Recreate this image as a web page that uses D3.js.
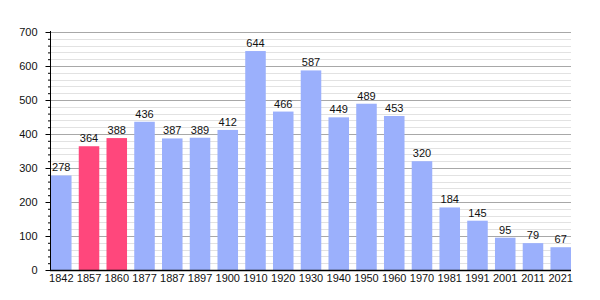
<!DOCTYPE html>
<html>
<head>
<meta charset="utf-8">
<script src="https://cdn.jsdelivr.net/npm/d3@7"></script>
<style>
body { margin: 0; background: #fff; }
svg text { font-family: "Liberation Sans", Arial, sans-serif; }
</style>
</head>
<body>
<svg width="600" height="300"></svg>
<script>
var years = ["1842","1857","1860","1877","1887","1897","1900","1910","1920","1930","1940","1950","1960","1970","1981","1991","2001","2011","2021"];
var population = [278,364,388,436,387,389,412,644,466,587,449,489,453,320,184,145,95,79,67];
var highlighted = ["1857","1860"];
var yTicks = [0,100,200,300,400,500,600,700];

var svg = d3.select("svg");
var plotLeft = 51, plotRight = 571, plotTop = 32, plotBottom = 270;

var x = d3.scaleBand().domain(years).range([plotLeft, plotRight]).paddingInner(0.26).paddingOuter(0);
var y = d3.scaleLinear().domain([0, 700]).range([plotBottom, plotTop]);

// grid: minor every 20, major every 100
var minor = d3.range(0, 701, 20).filter(function(d) { return d % 100 != 0; });
svg.append("g").selectAll("line").data(minor).enter().append("line")
	.attr("x1", plotLeft).attr("x2", plotRight)
	.attr("y1", function(d) { return Math.round(y(d)) + 0.5; }).attr("y2", function(d) { return Math.round(y(d)) + 0.5; })
	.attr("stroke", "#e2e2e2").attr("stroke-width", 1);
svg.append("g").selectAll("line").data(yTicks.slice(1)).enter().append("line")
	.attr("x1", plotLeft).attr("x2", plotRight)
	.attr("y1", function(d) { return Math.round(y(d)) + 0.5; }).attr("y2", function(d) { return Math.round(y(d)) + 0.5; })
	.attr("stroke", "#a8a8a8").attr("stroke-width", 1);

// bars
svg.append("g").selectAll("rect").data(population).enter().append("rect")
	.attr("x", function(d, i) { return x(years[i]); })
	.attr("width", x.bandwidth())
	.attr("y", function(d) { return y(d); })
	.attr("height", function(d) { return y(0) - y(d); })
	.attr("fill", function(d, i) { return highlighted.indexOf(years[i]) >= 0 ? "#ff477c" : "#9bb0fc"; });

// value labels
svg.append("g").selectAll("text").data(population).enter().append("text")
	.attr("x", function(d, i) { return x(years[i]) + x.bandwidth() / 2; })
	.attr("y", function(d) { return y(d) - 4; })
	.attr("text-anchor", "middle")
	.attr("font-size", 11)
	.attr("fill", "#111")
	.text(function(d) { return d; });

// y axis
var yAxis = svg.append("g")
	.attr("transform", "translate(" + (plotLeft - 0.5) + ",0)")
	.call(d3.axisLeft(y).tickValues(yTicks).tickSize(5).tickPadding(8));
yAxis.selectAll("text").attr("font-size", 11).attr("fill", "#111");
yAxis.select(".domain").attr("d", "M0," + (plotTop - 1) + "V" + plotBottom);
svg.append("g")
	.attr("transform", "translate(" + (plotLeft - 0.5) + ",0)")
	.call(d3.axisLeft(y).tickValues(minor).tickSize(2.5).tickFormat(""))
	.select(".domain").remove();

// x axis
var xAxis = svg.append("g")
	.attr("transform", "translate(0," + (plotBottom + 0.5) + ")")
	.call(d3.axisBottom(x).tickSize(0).tickPadding(4));
xAxis.selectAll("text").attr("font-size", 11).attr("fill", "#111");
xAxis.select(".domain").attr("d", "M" + (plotLeft - 1) + ",0H" + plotRight).attr("stroke-width", 1.3);
</script>
</body>
</html>
